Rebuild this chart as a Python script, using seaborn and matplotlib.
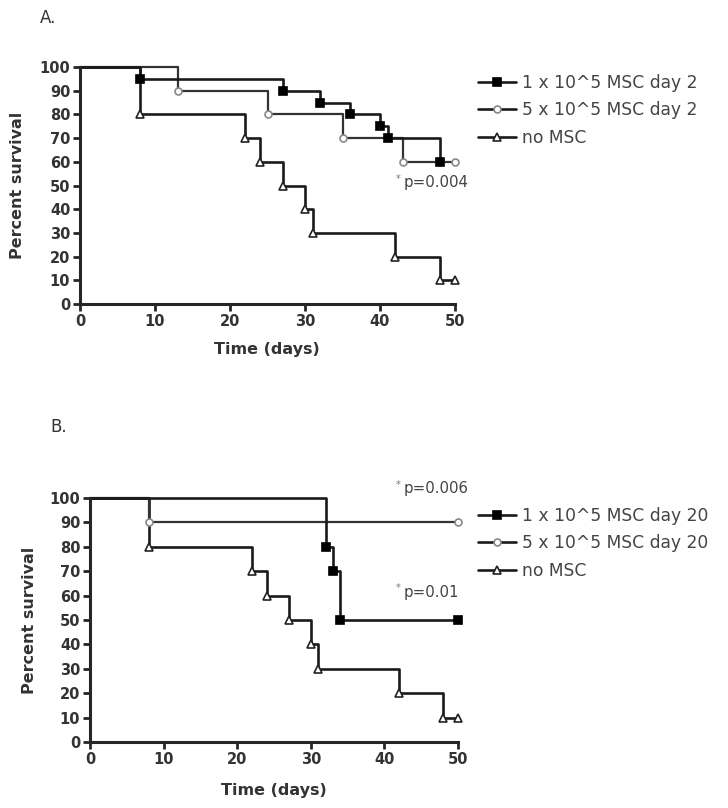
import matplotlib
matplotlib.use('Agg')
import matplotlib.pyplot as plt
from matplotlib.lines import Line2D
import seaborn as sns

# ---------------------------------------------------------
# data (Kaplan-Meier steps: time of event, survival after it)
# ---------------------------------------------------------
a_low_t = [0, 8, 27, 32, 36, 40, 41, 48]
a_low_s = [100, 95, 90, 85, 80, 75, 70, 60]
a_high_t = [0, 13, 25, 35, 43, 50]
a_high_s = [100, 90, 80, 70, 60, 60]

b_low_t = [0, 32, 33, 34, 50]
b_low_s = [100, 80, 70, 50, 50]
b_high_t = [0, 8, 50]
b_high_s = [100, 90, 90]

ctrl_t = [0, 8, 22, 24, 27, 30, 31, 42, 48, 50]
ctrl_s = [100, 80, 70, 60, 50, 40, 30, 20, 10, 10]

labels_a = ["1 x 10^5 MSC day 2", "5 x 10^5 MSC day 2", "no MSC"]
labels_b = ["1 x 10^5 MSC day 20", "5 x 10^5 MSC day 20", "no MSC"]
x_ticks = [0, 10, 20, 30, 40, 50]
y_ticks = list(range(0, 101, 10))

sns.set_style("ticks")
plt.rcParams['font.family'] = ['DejaVu Sans']

LINE = "#1a1a1a"
styles = [
    dict(marker='s', mfc='black', mec='black', ms=5.5),
    dict(marker='o', mfc='white', mec='#888888', ms=5),
    dict(marker='^', mfc='white', mec='#222222', ms=5.5),
]


def draw_km(ax, t, s, st, lw=1.9, color=LINE):
    sns.lineplot(x=t, y=s, drawstyle='steps-post', color=color, lw=lw,
                 estimator=None, sort=False, ax=ax, clip_on=False)
    ax.plot(t[1:], s[1:], linestyle='none', clip_on=False, zorder=5,
            markeredgewidth=1.2, **st)


def style_axes(ax):
    ax.set_xlim(0, 50)
    ax.set_ylim(0, 100)
    ax.set_xticks(x_ticks)
    ax.set_yticks(y_ticks)
    sns.despine(ax=ax)
    for sp in ['left', 'bottom']:
        ax.spines[sp].set_linewidth(2.2)
    ax.tick_params(direction='out', length=5, width=2, labelsize=10.5, pad=2)
    for lab in ax.get_xticklabels() + ax.get_yticklabels():
        lab.set_fontweight('bold')
        lab.set_color('#333333')
    ax.set_xlabel('')
    ax.set_ylabel('')


def add_legend(ax, labels, top_px):
    hs = [Line2D([0], [0], color=LINE, lw=1.9, markeredgewidth=1.2, **st)
          for st in styles]
    ax.legend(hs, labels, frameon=False, fontsize=12.3,
              loc='upper left', bbox_to_anchor=(478 / 728, 1 - top_px / 808),
              bbox_transform=fig.transFigure, handlelength=2.2,
              handletextpad=0.35, labelspacing=0.55, borderaxespad=0,
              borderpad=0, labelcolor='#444444')


def p_text(x_px, y_px, txt):
    fig.text(x_px / 728, 1 - (y_px - 4) / 808, "*", fontsize=7,
             color='#777777', va='center', ha='left')
    fig.text((x_px + 8) / 728, 1 - y_px / 808, txt, fontsize=10.8,
             color='#444444', va='center', ha='left')


fig = plt.figure(figsize=(7.28, 8.08), dpi=100)

# ---------------------------------------------------------
# panel A
# ---------------------------------------------------------
axA = fig.add_axes([80 / 728, 1 - 304 / 808, 375 / 728, 237 / 808])
draw_km(axA, ctrl_t, ctrl_s, styles[2])
draw_km(axA, a_high_t, a_high_s, styles[1], lw=1.6, color="#333333")
draw_km(axA, a_low_t, a_low_s, styles[0])
style_axes(axA)
add_legend(axA, labels_a, 74)
p_text(396, 183, "p=0.004")
fig.text(40 / 728, 1 - 18 / 808, "A.", fontsize=12, color='#333333', va='center')
fig.text(18 / 728, 1 - 185 / 808, "Percent survival", rotation=90, fontsize=11.5,
         fontweight='bold', color='#333333', ha='center', va='center')
fig.text(267 / 728, 1 - 350 / 808, "Time (days)", fontsize=11.5,
         fontweight='bold', color='#333333', ha='center', va='center')

# ---------------------------------------------------------
# panel B
# ---------------------------------------------------------
axB = fig.add_axes([90 / 728, 1 - 742 / 808, 368 / 728, 244 / 808])
draw_km(axB, ctrl_t, ctrl_s, styles[2])
draw_km(axB, b_high_t, b_high_s, styles[1], lw=1.6, color="#333333")
draw_km(axB, b_low_t, b_low_s, styles[0])
style_axes(axB)
add_legend(axB, labels_b, 507)
p_text(396, 489, "p=0.006")
p_text(396, 592, "p=0.01")
fig.text(50 / 728, 1 - 427 / 808, "B.", fontsize=12, color='#333333', va='center')
fig.text(30 / 728, 1 - 620 / 808, "Percent survival", rotation=90, fontsize=11.5,
         fontweight='bold', color='#333333', ha='center', va='center')
fig.text(274 / 728, 1 - 790 / 808, "Time (days)", fontsize=11.5,
         fontweight='bold', color='#333333', ha='center', va='center')

fig.savefig('out.png', dpi=100)
plt.close(fig)
